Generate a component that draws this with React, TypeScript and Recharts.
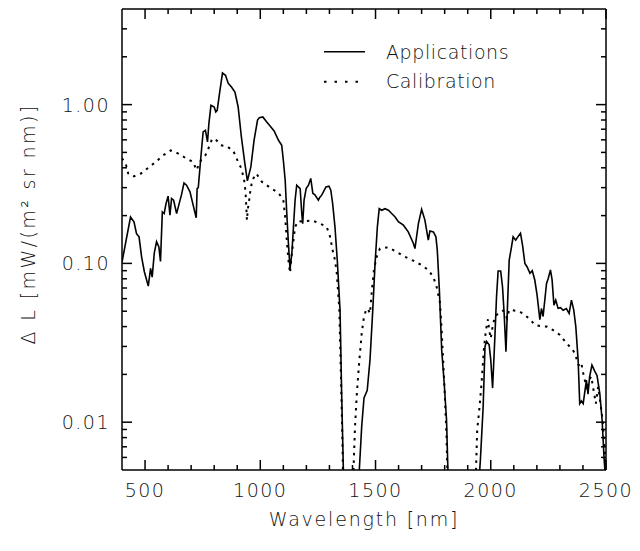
import React from 'react';
import { LineChart, Line, XAxis, YAxis, Legend, Label } from 'recharts';

const appNm = [400,437,452,463,474,485,497,514,524,531,540,550,560,567,575,583,591,600,608,615,624,637,648,658,669,680,695,709,722,726,731,741,752,762,771,777,786,800,807,813,825,836,849,861,875,890,904,918,933,944,959,973,988,996,1011,1028,1046,1060,1079,1093,1100,1108,1115,1122,1129,1137,1144,1151,1158,1173,1180,1184,1190,1199,1209,1219,1228,1237,1252,1258,1267,1285,1298,1306,1314,1324,1334,1346,1353,1362,1394,1426,1440,1450,1464,1476,1488,1498,1508,1516,1527,1541,1556,1570,1585,1599,1621,1642,1664,1671,1686,1700,1714,1729,1736,1751,1762,1768,1777,1787,1798,1808,1816,1880,1950,1955,1967,1975,1982,1993,2000,2008,2018,2025,2032,2043,2051,2058,2066,2073,2080,2090,2097,2108,2119,2129,2138,2148,2158,2170,2180,2191,2201,2213,2220,2227,2234,2242,2249,2259,2266,2274,2282,2292,2303,2314,2328,2340,2350,2360,2369,2379,2386,2393,2401,2415,2422,2429,2439,2451,2461,2473,2483,2492,2500];
const appVal = [0.102,0.196,0.183,0.154,0.147,0.110,0.0886,0.072,0.093,0.082,0.116,0.137,0.127,0.103,0.211,0.206,0.238,0.265,0.201,0.256,0.25,0.206,0.238,0.27,0.321,0.311,0.282,0.232,0.194,0.296,0.30,0.446,0.673,0.689,0.582,0.759,0.99,0.966,0.90,0.92,1.23,1.58,1.53,1.36,1.29,1.20,0.966,0.625,0.426,0.331,0.405,0.596,0.80,0.828,0.836,0.777,0.723,0.682,0.596,0.555,0.446,0.334,0.206,0.134,0.092,0.116,0.17,0.25,0.311,0.296,0.206,0.178,0.25,0.296,0.311,0.343,0.276,0.27,0.25,0.26,0.27,0.303,0.306,0.289,0.238,0.17,0.105,0.0508,0.0152,0.004,null,0.004,0.0094,0.0142,0.0159,0.0247,0.0508,0.1,0.17,0.221,0.216,0.221,0.216,0.206,0.196,0.183,0.174,0.158,0.134,0.124,0.178,0.219,0.188,0.14,0.16,0.158,0.147,0.121,0.0683,0.0286,0.0176,0.0104,0.004,null,0.0045,0.0058,0.0125,0.030,0.0322,0.0307,0.0247,0.0164,0.0347,0.0616,0.0896,0.0896,0.0713,0.0484,0.0278,0.056,0.105,0.127,0.147,0.14,0.148,0.155,0.13,0.1,0.095,0.0866,0.09,0.0786,0.0632,0.0442,0.052,0.0463,0.058,0.0748,0.08,0.0909,0.079,0.0546,0.0587,0.0521,0.0526,0.0507,0.052,0.0484,0.0587,0.051,0.040,0.0247,0.0131,0.0136,0.0131,0.0184,0.015,0.0194,0.0229,0.021,0.0197,0.0152,0.0104,0.0058,0.004];

const calNm = [400,408,416,427,440,453,482,514,546,579,612,644,680,709,723,742,762,781,791,810,829,853,882,904,918,930,936,940,942,946,950,956,965,983,1007,1043,1079,1100,1108,1115,1122,1129,1137,1144,1151,1165,1187,1223,1259,1288,1303,1314,1324,1332,1343,1350,1355,1360,1380,1402,1411,1419,1430,1440,1450,1459,1466,1476,1483,1493,1505,1519,1548,1556,1592,1628,1664,1700,1729,1751,1765,1780,1787,1794,1801,1808,1813,1870,1934,1941,1950,1960,1970,1979,1988,1993,2000,2008,2018,2037,2054,2071,2080,2105,2126,2148,2170,2191,2213,2242,2271,2300,2329,2350,2369,2375,2386,2393,2401,2418,2427,2436,2447,2456,2466,2472,2485,2495,2500];
const calVal = [0.46,0.44,0.426,0.368,0.355,0.354,0.368,0.40,0.435,0.48,0.515,0.492,0.457,0.435,0.386,0.446,0.48,0.555,0.611,0.596,0.555,0.547,0.515,0.435,0.396,0.334,0.282,0.216,0.187,0.22,0.238,0.28,0.334,0.368,0.326,0.30,0.278,0.25,0.196,0.14,0.105,0.087,0.116,0.14,0.17,0.185,0.183,0.187,0.178,0.17,0.147,0.121,0.105,0.0866,0.0508,0.0194,0.0094,0.004,null,0.004,0.0094,0.0152,0.0247,0.0362,0.0463,0.0508,0.052,0.0484,0.0646,0.0909,0.11,0.124,0.126,0.126,0.118,0.11,0.104,0.0975,0.0909,0.082,0.0713,0.0561,0.038,0.0235,0.0145,0.0082,0.004,null,0.004,0.0089,0.0119,0.0176,0.0286,0.038,0.0445,0.038,0.0337,0.04,0.0463,0.049,0.0504,0.045,0.051,0.0504,0.0497,0.0473,0.0445,0.041,0.0403,0.04,0.038,0.0354,0.0314,0.0292,0.0267,0.0235,0.0226,0.0235,0.0204,0.0159,0.0185,0.0194,0.0156,0.0131,0.0167,0.0145,0.0104,0.0064,0.0045];

const seriesNames = ['Applications', 'Calibration'];
const xMajorTicks = [500, 1000, 1500, 2000, 2500];
const xMinorTicks = [600, 700, 800, 900, 1100, 1200, 1300, 1400, 1600, 1700, 1800, 1900, 2100, 2200, 2300, 2400];
const yMajorTicks = [0.01, 0.1, 1];
const yMajorLabels = ['0.01', '0.10', '1.00'];
const yMinorTicks = [0.006, 0.007, 0.008, 0.009, 0.02, 0.03, 0.04, 0.05, 0.06, 0.07, 0.08, 0.09, 0.2, 0.3, 0.4, 0.5, 0.6, 0.7, 0.8, 0.9, 2, 3];
const xTitle = 'Wavelength [nm]';
const yTitle = 'Δ L [mW/(m² sr nm)]';

const appData = appNm.map((nm, i) => ({ nm, v: appVal[i] }));
const calData = calNm.map((nm, i) => ({ nm, v: calVal[i] }));
const xAllTicks = [...xMajorTicks, ...xMinorTicks].sort((a, b) => a - b);
const yAllTicks = [...yMajorTicks, ...yMinorTicks].sort((a, b) => a - b);

const FONT = "'DejaVu Sans', sans-serif";
const TXT: React.CSSProperties = { fontFamily: FONT, fontSize: 19, fontWeight: 200, fill: '#111' };
const X_DOMAIN: [number, number] = [400, 2500];
const Y_DOMAIN: [number, number] = [0.005, 4];
const AX = { stroke: '#000', strokeWidth: 1.5 };
const MAJ = 10;
const MIN = 5;

const isXMajor = (v: number) => xMajorTicks.indexOf(v) >= 0;
const isYMajor = (v: number) => yMajorTicks.indexOf(v) >= 0;

const xBottomTick = (p: any) => {
  const v = p.payload.value;
  const len = isXMajor(v) ? MAJ : MIN;
  return (
    <g>
      <line x1={p.x} x2={p.x} y1={p.y} y2={p.y - len} stroke="#000" strokeWidth={1.5} />
      {isXMajor(v) && (
        <text x={p.x} y={p.y + 27} textAnchor="middle" style={{ ...TXT, letterSpacing: 1.5 }}>{String(v)}</text>
      )}
    </g>
  );
};

const xTopTick = (p: any) => {
  const v = p.payload.value;
  const len = isXMajor(v) ? MAJ : MIN;
  return <line x1={p.x} x2={p.x} y1={p.y} y2={p.y + len} stroke="#000" strokeWidth={1.5} />;
};

const yLeftTick = (p: any) => {
  const v = p.payload.value;
  const idx = yMajorTicks.indexOf(v);
  const len = isYMajor(v) ? MAJ : MIN;
  return (
    <g>
      <line x1={p.x} x2={p.x + len} y1={p.y} y2={p.y} stroke="#000" strokeWidth={1.5} />
      {idx >= 0 && (
        <text x={p.x - 12} y={p.y + 7} textAnchor="end" style={{ ...TXT, letterSpacing: 1.5 }}>{yMajorLabels[idx]}</text>
      )}
    </g>
  );
};

const yRightTick = (p: any) => {
  const v = p.payload.value;
  const len = isYMajor(v) ? MAJ : MIN;
  return <line x1={p.x} x2={p.x - len} y1={p.y} y2={p.y} stroke="#000" strokeWidth={1.5} />;
};

const LegendBox = () => (
  <svg width={240} height={52} style={{ display: 'block', overflow: 'visible' }}>
    <line x1={0} x2={41} y1={7.7} y2={7.7} stroke="#000" strokeWidth={1.6} />
    <text x={62} y={15.3} style={{ ...TXT, letterSpacing: 0.6 }}>{seriesNames[0]}</text>
    <line x1={0} x2={41} y1={37.7} y2={37.7} stroke="#000" strokeWidth={2} strokeDasharray="2.5 8" />
    <text x={62} y={44.3} style={{ ...TXT, letterSpacing: 0.6 }}>{seriesNames[1]}</text>
  </svg>
);

export default function App() {
  return (
    <LineChart width={624} height={535} margin={{ top: 0, right: 25, bottom: 72, left: 113 }}>
      <XAxis xAxisId="xb" orientation="bottom" type="number" dataKey="nm" domain={X_DOMAIN} allowDataOverflow
        ticks={xAllTicks} interval={0} height={1} tickSize={0} tickMargin={0} tickLine={false} axisLine={AX} tick={xBottomTick}>
        <Label content={(props: any) => {
          const vb = props.viewBox || {};
          return (
            <text x={vb.x + vb.width / 2} y={vb.y + 56} textAnchor="middle" style={{ ...TXT, letterSpacing: 1.8 }}>
              {xTitle}
            </text>
          );
        }} />
      </XAxis>
      <XAxis xAxisId="xt" orientation="top" type="number" dataKey="nm" domain={X_DOMAIN} allowDataOverflow
        ticks={xAllTicks} interval={0} height={1} tickSize={0} tickMargin={0} tickLine={false} axisLine={AX} tick={xTopTick} />
      <YAxis yAxisId="yl" orientation="left" type="number" scale="log" domain={Y_DOMAIN} allowDataOverflow
        ticks={yAllTicks} interval={0} width={1} tickSize={0} tickMargin={0} tickLine={false} axisLine={AX} tick={yLeftTick}>
        <Label content={(props: any) => {
          const vb = props.viewBox || {};
          const cx = 20;
          const cy = (vb.y || 0) + 215;
          return (
            <text x={cx} y={cy} transform={`rotate(-90 ${cx} ${cy})`} textAnchor="middle" dominantBaseline="central"
              style={{ ...TXT, letterSpacing: 2.4 }}>
              {yTitle}
            </text>
          );
        }} />
      </YAxis>
      <YAxis yAxisId="yr" orientation="right" type="number" scale="log" domain={Y_DOMAIN} allowDataOverflow
        ticks={yAllTicks} interval={0} width={1} tickSize={0} tickMargin={0} tickLine={false} axisLine={AX} tick={yRightTick} />
      <Legend layout="horizontal" verticalAlign="middle" align="center"
        wrapperStyle={{ left: 316, top: 36, width: 240, height: 52 }} content={() => <LegendBox />} />
      <Line xAxisId="xb" yAxisId="yl" data={calData} dataKey="v" name={seriesNames[1]} type="linear" dot={false}
        stroke="#000" strokeWidth={2} strokeDasharray="2.5 5" isAnimationActive={false} connectNulls={false} />
      <Line xAxisId="xb" yAxisId="yl" data={appData} dataKey="v" name={seriesNames[0]} type="linear" dot={false}
        stroke="#000" strokeWidth={1.6} isAnimationActive={false} connectNulls={false} />
    </LineChart>
  );
}
